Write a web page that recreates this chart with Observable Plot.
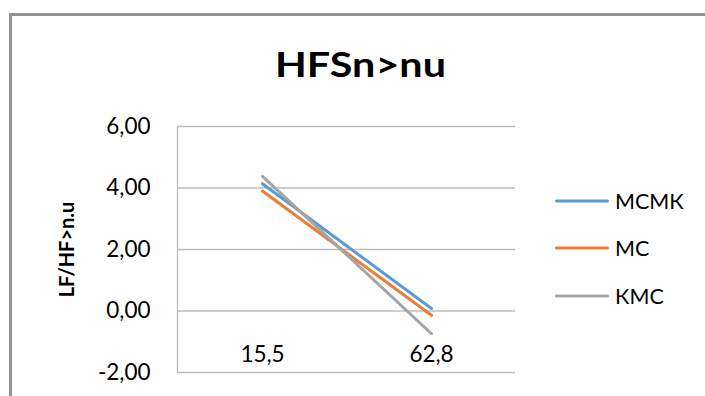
<!DOCTYPE html>
<html>
<head>
<meta charset="utf-8">
<script src="https://cdn.jsdelivr.net/npm/d3@7"></script>
<script src="https://cdn.jsdelivr.net/npm/@observablehq/plot@0.6"></script>
<style>
  html, body { margin: 0; padding: 0; width: 705px; height: 396px; overflow: hidden; background: #fff; }
  #wrap { position: relative; width: 705px; height: 396px; font-family: Lato, "Open Sans", sans-serif; }
  #frame { position: absolute; left: 9px; top: 13px; width: 800px; height: 500px; border: 3px solid #929292; box-sizing: border-box; }
  #title { position: absolute; left: 8px; width: 705px; top: 46px; text-align: center; font-size: 35px; font-weight: bold; color: #000; line-height: 1; }
  #title span { display: inline-block; transform: scaleX(1.18); transform-origin: center; }
  #chart { position: absolute; left: 0; top: 0; }
  #legend { position: absolute; left: 555px; top: 0; }
  .item { position: absolute; left: 0; display: flex; align-items: center; white-space: nowrap; font-size: 21.5px; color: #000; }
  .item svg { display: block; margin-right: 6px; }
</style>
</head>
<body>
<div id="wrap">
  <div id="frame"></div>
  <div id="chart"></div>
  <div id="title"><span>HFSn&gt;nu</span></div>
  <div id="legend"></div>
</div>
<script>
const categories = ["15,5", "62,8"];
const seriesNames = ["МСМК", "МС", "КМС"];
const seriesColors = ["#5B9BD5", "#ED7D31", "#A5A5A5"];
const valuesMCMK = [4.14, 0.08];
const valuesMC = [3.90, -0.14];
const valuesKMC = [4.38, -0.74];
const yTicks = [-2, 0, 2, 4, 6];
const yLabel = "LF/HF>n.u";

const seriesValues = [valuesMCMK, valuesMC, valuesKMC];
const rows = [];
seriesNames.forEach((s, i) => categories.forEach((c, j) => rows.push({series: s, cat: c, value: seriesValues[i][j]})));

const fmt = d => d.toFixed(2).replace(".", ",");

const plot = Plot.plot({
  width: 705,
  height: 396,
  marginLeft: 177,
  marginRight: 190,
  marginTop: 126,
  marginBottom: 24,
  style: {fontFamily: "Lato, 'Open Sans', sans-serif", background: "transparent", overflow: "visible"},
  x: {type: "point", domain: categories, padding: 0.5, axis: null},
  y: {domain: [-2, 6], axis: null},
  color: {domain: seriesNames, range: seriesColors},
  marks: [
    Plot.gridY(yTicks, {stroke: "#BDBDBD", strokeOpacity: 1, strokeWidth: 1.3}),
    Plot.frame({anchor: "left", stroke: "#BDBDBD", strokeWidth: 1.3}),
    Plot.axisY(yTicks, {tickSize: 0, tickPadding: 27, tickFormat: fmt, fontSize: 22.5, fill: "#000", label: null}),
    Plot.text(categories, {x: d => d, y: () => 0, dy: 44, fontSize: 22.5, fill: "#000", lineAnchor: "middle"}),
    Plot.line(rows, {x: "cat", y: "value", z: "series", stroke: "series", strokeWidth: 3, strokeLinecap: "round"}),
    Plot.text([yLabel], {frameAnchor: "left", textAnchor: "middle", dx: -110, rotate: -90, fontSize: 20, fontWeight: "bold", fill: "#000"})
  ]
});
document.getElementById("chart").appendChild(plot);

const legendY = [202, 249, 297];
const legend = document.getElementById("legend");
seriesNames.forEach((s, i) => {
  const item = document.createElement("div");
  item.className = "item";
  item.style.top = (legendY[i] - 14) + "px";
  item.innerHTML = `<svg width="54" height="6"><line x1="1.5" y1="3" x2="52.5" y2="3" stroke="${seriesColors[i]}" stroke-width="3" stroke-linecap="round"/></svg><span>${s}</span>`;
  legend.appendChild(item);
});
</script>
</body>
</html>
